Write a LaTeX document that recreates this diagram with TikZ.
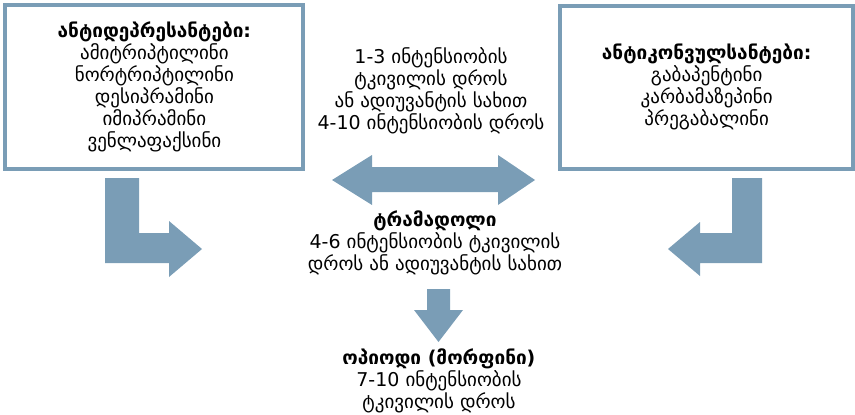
\documentclass[tikz,border=0pt]{standalone}
\usepackage{fontspec}
\setmainfont{DejaVu Sans}
\usetikzlibrary{positioning,calc}
\definecolor{steelblue}{HTML}{7A9DB6}

\begin{document}
\begin{tikzpicture}[x=1pt, y=-1pt, font=\fontsize{19}{22}\selectfont,
    drugbox/.style={draw=steelblue, line width=4pt, align=center, inner sep=0pt},
    plain/.style={align=center, inner sep=0pt},
    blockarrow/.style={fill=steelblue}]
  \useasboundingbox (0,0) rectangle (855,415);
  % boxes
  \node[drugbox, minimum width=298pt, minimum height=164pt] (antidep) at (154.4,87)
    {\textbf{ანტიდეპრესანტები:}\\ამიტრიპტილინი\\ნორტრიპტილინი\\დესიპრამინი\\იმიპრამინი\\ვენლაფაქსინი};
  \node[drugbox, minimum width=293pt, minimum height=163pt] (anticonv) at (706.7,87)
    {\textbf{ანტიკონვულსანტები:}\\გაბაპენტინი\\კარბამაზეპინი\\პრეგაბალინი};
  % texts
  \node[plain] (steps) at (431,91)
    {1-3 ინტენსიობის\\ტკივილის დროს\\ან ადიუვანტის სახით\\4-10 ინტენსიობის დროს};
  \node[plain] (tramadol) at (435,243)
    {\textbf{ტრამადოლი}\\4-6 ინტენსიობის ტკივილის\\დროს ან ადიუვანტის სახით};
  \node[plain] (opioid) at (439,381)
    {\textbf{ოპიოდი (მორფინი)}\\7-10 ინტენსიობის\\ტკივილის დროს};
  % arrows
  \fill[blockarrow] (332,180) -- (372,155) -- (372,167) -- (498,167) -- (498,155)
    -- (535,180) -- (498,205) -- (498,192) -- (372,192) -- (372,205) -- cycle;
  \fill[blockarrow] (105,178) -- (139,178) -- (139,233) -- (169,233) -- (169,221)
    -- (202,249) -- (169,277) -- (169,263) -- (105,263) -- cycle;
  \fill[blockarrow] (762,178) -- (732,178) -- (732,233) -- (700,233) -- (700,222)
    -- (668,249) -- (700,276) -- (700,263) -- (762,263) -- cycle;
  \fill[blockarrow] (427,289) -- (450,289) -- (450,310) -- (463,310) -- (438.5,342)
    -- (414,310) -- (427,310) -- cycle;
\end{tikzpicture}
\end{document}
